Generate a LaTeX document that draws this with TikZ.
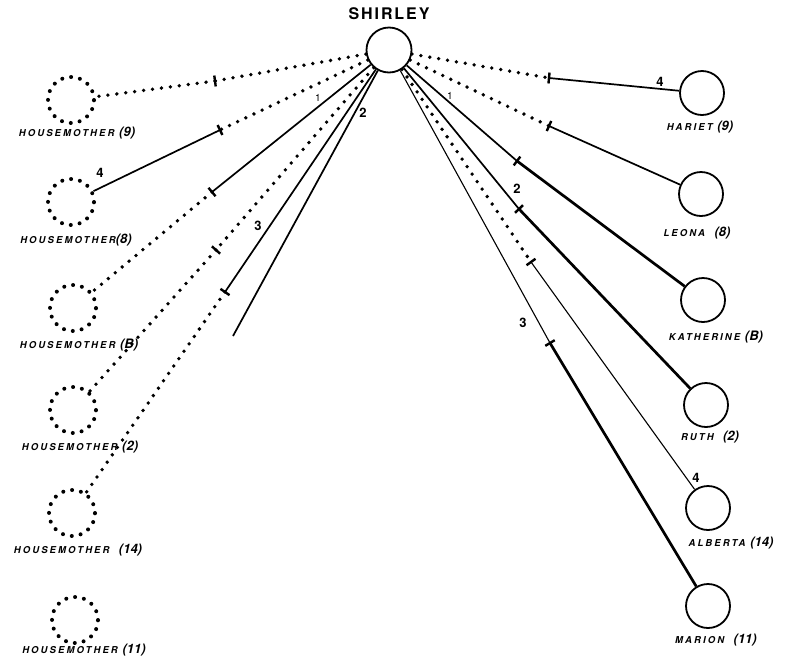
\documentclass[tikz,border=0pt]{standalone}
\usepackage{fontspec}
\newfontfamily\hand[LetterSpace=22]{TeX Gyre Heros}
\newfontfamily\handnum{TeX Gyre Heros}
\newfontfamily\handtitle[LetterSpace=12]{TeX Gyre Heros}
\usetikzlibrary{calc}
\tikzset{
  person/.style={circle, minimum size=44pt, inner sep=0pt, draw, line width=1.8pt},
  absent/.style={circle, minimum size=46pt, inner sep=0pt, draw, line width=4pt, dash pattern=on 0pt off 9pt, line cap=round},
  dotline/.style={line width=3.8pt, dash pattern=on 0pt off 9pt, line cap=round},
  solidline/.style={line width=1.7pt},
  thickline/.style={line width=2.7pt},
  thinline/.style={line width=1.1pt},
  tickmark/.style={line width=2.4pt},
  lbl/.style={font=\hand\bfseries\itshape\fontsize{9.5}{10}\selectfont, inner sep=0pt},
  num/.style={font=\handnum\bfseries\fontsize{13}{13}\selectfont, inner sep=0pt},
  smallnum/.style={font=\handnum\fontsize{10}{10}\selectfont, inner sep=0pt},
}
\newcommand\tickat[2]{\draw[tickmark] ($(#1)!5.5pt!90:(#2)$) -- ($(#1)!5.5pt!-90:(#2)$);}
\newcommand\pnum[1]{{\handnum\fontsize{13}{13}\selectfont(#1)}}
\begin{document}
\begin{tikzpicture}[x=1pt,y=-1pt]
\fill[white] (0,0) rectangle (791,662);
\useasboundingbox (0,0) rectangle (791,662);

% hub
\node[person, minimum size=45pt] (shirley) at (389,50) {};
\node[font=\handtitle\bfseries\fontsize{16}{16}\selectfont, inner sep=0pt] (shirleylbl) at (389,14) {SHIRLEY};

% housemothers (absent)
\node[absent] (hm9)  at (71,100) {};
\node[absent] (hm8)  at (71,202) {};
\node[absent] (hmB)  at (73,308) {};
\node[absent] (hm2)  at (73,410) {};
\node[absent] (hm14) at (72,513) {};
\node[absent] (hm11) at (75,620) {};
\node[lbl] (lhm9)  at (77,133) {HOUSEMOTHER \pnum{9}};
\node[lbl] (lhm8)  at (76,240) {HOUSEMOTHER\pnum{8}};
\node[lbl] (lhmB)  at (79,345) {HOUSEMOTHER \pnum{B}};
\node[lbl] (lhm2)  at (80,447) {HOUSEMOTHER \pnum{2}};
\node[lbl] (lhm14) at (78,550) {HOUSEMOTHER \ \pnum{14}};
\node[lbl] (lhm11) at (84,650) {HOUSEMOTHER \pnum{11}};

% children
\node[person] (hariet)    at (702,93)  {};
\node[person] (leona)     at (701,194) {};
\node[person] (katherine) at (703,300) {};
\node[person] (ruth)      at (706,405) {};
\node[person] (alberta)   at (708,508) {};
\node[person] (marion)    at (708,606) {};
\node[lbl] (lhariet)    at (700,127) {HARIET \pnum{9}};
\node[lbl] (lleona)     at (697,233) {LEONA \ \pnum{8}};
\node[lbl] (lkatherine) at (716,337) {KATHERINE \pnum{B}};
\node[lbl] (lruth)      at (710,437) {RUTH \ \pnum{2}};
\node[lbl] (lalberta)   at (731,543) {ALBERTA \pnum{14}};
\node[lbl] (lmarion)    at (716,640) {MARION \ \pnum{11}};

% break points
\coordinate (t1) at (215,81);
\coordinate (t2) at (220,130);
\coordinate (t3) at (212,192);
\coordinate (t4) at (216,250);
\coordinate (t5) at (225,292);
\coordinate (e6) at (233,336);
\coordinate (r1) at (549,78);
\coordinate (r2) at (549,126);
\coordinate (r3) at (517,161);
\coordinate (r4) at (519,209);
\coordinate (r5) at (531,262);
\coordinate (r6) at (550,343);

% left connectors
\draw[dotline] (shirley) -- (t1);  \draw[dotline] (t1) -- (hm9);
\draw[dotline] (shirley) -- (t2);  \draw[solidline] (t2) -- (hm8);
\draw[solidline] (shirley) -- (t3); \draw[dotline] (t3) -- (hmB);
\draw[dotline] (shirley) -- (t4);  \draw[dotline] (t4) -- (hm2);
\draw[solidline] (shirley) -- (t5); \draw[dotline] (t5) -- (hm14);
\draw[solidline] (shirley) -- (e6);
\tickat{t1}{hm9}
\tickat{t2}{hm8}
\tickat{t3}{hmB}
\tickat{t4}{hm2}
\tickat{t5}{hm14}

% right connectors
\draw[dotline] (shirley) -- (r1);  \draw[solidline] (r1) -- (hariet);
\draw[dotline] (shirley) -- (r2);  \draw[solidline] (r2) -- (leona);
\draw[solidline] (shirley) -- (r3); \draw[thickline] (r3) -- (katherine);
\draw[solidline] (shirley) -- (r4); \draw[thickline] (r4) -- (ruth);
\draw[dotline] (shirley) -- (r5);  \draw[thinline] (r5) -- (alberta);
\draw[thinline] (shirley) -- (r6); \draw[thickline] (r6) -- (marion);
\tickat{r1}{hariet}
\tickat{r2}{leona}
\tickat{r3}{katherine}
\tickat{r4}{ruth}
\tickat{r5}{alberta}
\tickat{r6}{marion}

% connector numbers
\node[num] (n1) at (100,173) {4};
\node[smallnum] (n2) at (318,98) {1};
\node[num] (n3) at (258,226) {3};
\node[num] (n4) at (363,113) {2};
\node[num] (n5) at (660,82) {4};
\node[smallnum] (n6) at (450,96) {1};
\node[num] (n7) at (517,189) {2};
\node[num] (n8) at (523,323) {3};
\node[num] (n9) at (696,478) {4};
\end{tikzpicture}
\end{document}
